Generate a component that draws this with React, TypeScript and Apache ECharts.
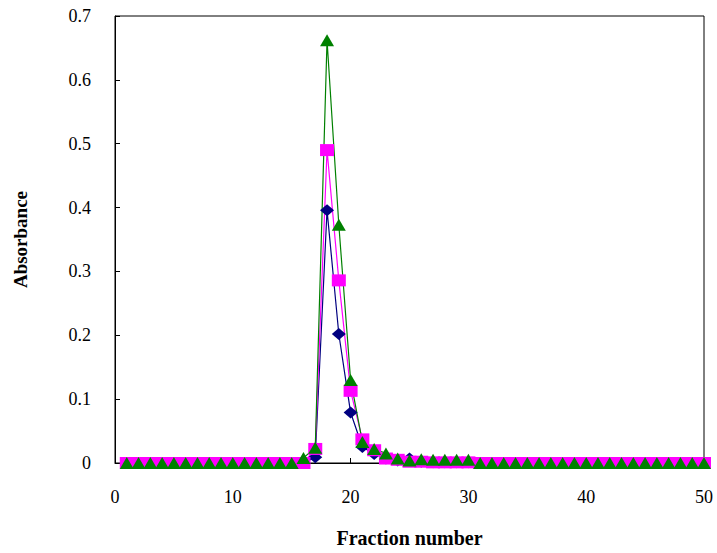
import React, { useEffect, useRef } from "react";
import * as echarts from "echarts";

const fractions: number[] = Array.from({ length: 50 }, (_, i) => i + 1);

// values for fractions 1..50
const seriesBlue: number[] = [
  0, 0, 0, 0, 0, 0, 0, 0, 0, 0,
  0, 0, 0, 0, 0, 0, 0.009, 0.396, 0.202, 0.079,
  0.025, 0.014, 0.007, 0.004, 0.007, 0.002, 0.001, 0.001, 0.001, 0.001,
  0, 0, 0, 0, 0, 0, 0, 0, 0, 0,
  0, 0, 0, 0, 0, 0, 0, 0, 0, 0,
];
const seriesPink: number[] = [
  0, 0, 0, 0, 0, 0, 0, 0, 0, 0,
  0, 0, 0, 0, 0, 0, 0.022, 0.49, 0.286, 0.113,
  0.037, 0.02, 0.007, 0.005, 0.002, 0.002, 0.001, 0.001, 0.001, 0.001,
  0, 0, 0, 0, 0, 0, 0, 0, 0, 0,
  0, 0, 0, 0, 0, 0, 0, 0, 0, 0,
];
const seriesGreen: number[] = [
  0, 0, 0, 0, 0, 0, 0, 0, 0, 0,
  0, 0, 0, 0, 0, 0.008, 0.024, 0.662, 0.373, 0.13,
  0.033, 0.022, 0.015, 0.007, 0.004, 0.006, 0.005, 0.005, 0.005, 0.005,
  0, 0, 0, 0, 0, 0, 0, 0, 0, 0,
  0, 0, 0, 0, 0, 0, 0, 0, 0, 0,
];

const serif = "Liberation Serif";

export default function App() {
  const ref = useRef<HTMLDivElement>(null);
  useEffect(() => {
    if (!ref.current) return;
    const chart = echarts.init(ref.current, undefined, { renderer: "svg" });
    const mk = (vals: number[]) => fractions.map((f, i) => [f, vals[i]]);
    chart.setOption({
      animation: false,
      backgroundColor: "#ffffff",
      textStyle: { fontFamily: serif },
      grid: {
        left: 115,
        top: 16,
        right: 13,
        bottom: 86,
        show: true,
        borderColor: "#000",
        borderWidth: 1,
      },
      xAxis: {
        type: "value",
        min: 0,
        max: 50,
        interval: 10,
        name: "Fraction number",
        nameLocation: "middle",
        nameGap: 65,
        nameTextStyle: {
          fontFamily: serif,
          fontWeight: "bold",
          fontSize: 20,
          color: "#000",
        },
        axisLine: { show: true, lineStyle: { color: "#000", width: 1 } },
        axisTick: { show: true, inside: true, length: 5, lineStyle: { color: "#000" } },
        axisLabel: { fontFamily: serif, fontSize: 18, color: "#000", margin: 25 },
        splitLine: { show: false },
      },
      yAxis: {
        type: "value",
        min: 0,
        max: 0.7,
        interval: 0.1,
        name: "Absorbance",
        nameLocation: "middle",
        nameGap: 85,
        nameRotate: 90,
        nameTextStyle: {
          fontFamily: serif,
          fontWeight: "bold",
          fontSize: 19,
          color: "#000",
        },
        axisLine: { show: true, lineStyle: { color: "#000", width: 1 } },
        axisTick: { show: true, inside: true, length: 5, lineStyle: { color: "#000" } },
        axisLabel: {
          fontFamily: serif,
          fontSize: 18,
          color: "#000",
          margin: 24,
          padding: [7, 0, 0, 0],
        },
        splitLine: { show: false },
      },
      series: [
        {
          type: "line",
          data: mk(seriesBlue),
          symbol: "diamond",
          symbolSize: [14, 12],
          showAllSymbol: true,
          itemStyle: { color: "#000080" },
          lineStyle: { color: "#000080", width: 1.2 },
        },
        {
          type: "line",
          data: mk(seriesPink),
          symbol: "rect",
          symbolSize: [14, 12],
          showAllSymbol: true,
          itemStyle: { color: "#FF00FF" },
          lineStyle: { color: "#FF00FF", width: 1.2 },
        },
        {
          type: "line",
          data: mk(seriesGreen),
          symbol: "triangle",
          symbolSize: [14, 12],
          showAllSymbol: true,
          itemStyle: { color: "#008000" },
          lineStyle: { color: "#008000", width: 1.2 },
        },
      ],
    });
    return () => chart.dispose();
  }, []);
  return <div ref={ref} style={{ width: 717, height: 553, position: "absolute", left: 0, top: 0 }} />;
}
